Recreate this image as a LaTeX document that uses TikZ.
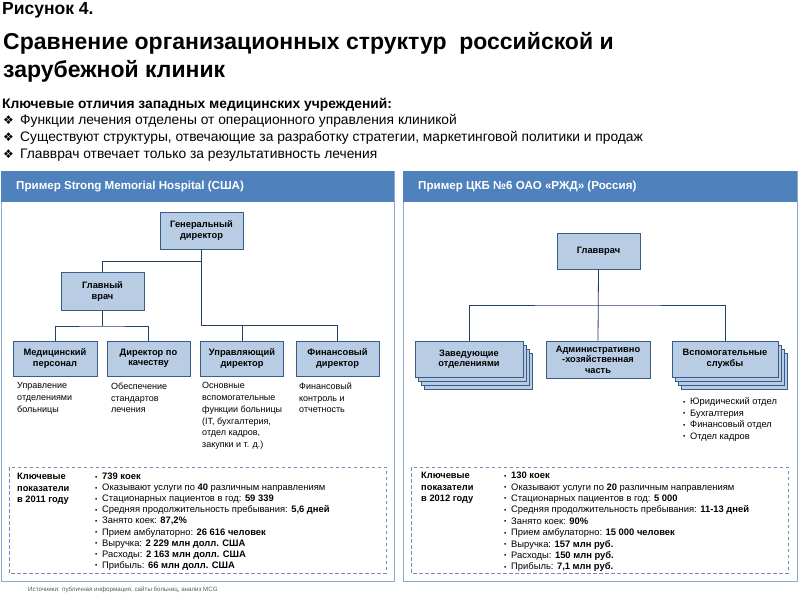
\documentclass[tikz,border=0pt]{standalone}
\usepackage{fontspec}
\setmainfont{Liberation Sans}
\newfontfamily\symfont{DejaVu Sans}
\usetikzlibrary{shadows}

\definecolor{headblue}{HTML}{4F81BD}
\definecolor{panelline}{HTML}{8EA9CF}
\definecolor{boxfill}{HTML}{B8CCE4}
\definecolor{boxline}{HTML}{385D8A}
\definecolor{connline}{HTML}{243F68}
\definecolor{dashline}{HTML}{6F8FB8}
\definecolor{srcgray}{HTML}{595959}

\newcommand{\itm}{\makebox[7pt][l]{\raisebox{0.6pt}{\fontsize{6.5}{7}\selectfont\textbullet}}}
\newcommand{\dia}{\makebox[17pt][l]{\symfont\fontsize{12}{14}\selectfont ❖}}

\begin{document}
\begin{tikzpicture}[x=1pt,y=-1pt,
	orgbox/.style={draw=boxline, fill=boxfill, line width=0.8pt, align=center, inner sep=2pt, font=\bfseries\fontsize{9.3}{10.5}\selectfont},
	stackbox/.style={orgbox,
		copy shadow={shadow xshift=9pt, shadow yshift=-12pt, fill=boxfill, draw=boxline},
		copy shadow={shadow xshift=6pt, shadow yshift=-8pt, fill=boxfill, draw=boxline},
		copy shadow={shadow xshift=3pt, shadow yshift=-4pt, fill=boxfill, draw=boxline}},
	conn/.style={draw=connline, line width=0.8pt},
	desc/.style={anchor=north west, inner sep=0pt, align=left, font=\fontsize{9}{11.7}\selectfont},
	keylist/.style={anchor=north west, inner sep=0pt, align=left},
	panel/.style={draw=panelline, line width=0.8pt, fill=white},
	headtext/.style={anchor=west, inner sep=0pt, text=white, font=\bfseries\fontsize{11.6}{13}\selectfont},
	keybox/.style={draw=dashline, line width=0.7pt, dash pattern=on 3.5pt off 2.5pt},
	topline/.style={anchor=base west, inner sep=0pt}]
		%%%%% START %%%%%
		\useasboundingbox (0,0) rectangle (800,595);
		
		\node[topline, font=\bfseries\fontsize{17.5}{20}\selectfont] (fignum) at (2,14) {Рисунок 4.};
		\node[topline, font=\bfseries\fontsize{23}{27}\selectfont] (title1) at (3,49) {Сравнение организационных структур\ \ российской и};
		\node[topline, font=\bfseries\fontsize{23}{27}\selectfont] (title2) at (3,77) {зарубежной клиник};
		\node[topline, font=\bfseries\fontsize{13.8}{16}\selectfont] (diffhead) at (2,108.5) {Ключевые отличия западных медицинских учреждений:};
		\node[topline, font=\fontsize{13.8}{16}\selectfont] (diff1) at (3,124) {\dia Функции лечения отделены от операционного управления клиникой};
		\node[topline, font=\fontsize{13.8}{16}\selectfont] (diff2) at (3,141.5) {\dia Существуют структуры, отвечающие за разработку стратегии, маркетинговой политики и продаж};
		\node[topline, font=\fontsize{13.8}{16}\selectfont] (diff3) at (3,158.5) {\dia Главврач отвечает только за результативность лечения};
		
		% panels
		\draw[panel] (1, 171) rectangle (394, 581);
		\fill[headblue] (1, 171) rectangle (394, 201.5);
		\draw[panel] (403, 171) rectangle (797, 581);
		\fill[headblue] (403, 171) rectangle (797, 201.5);
		\node[headtext] (headusa) at (16, 186.5) {Пример Strong Memorial Hospital (США)};
		\node[headtext] (headrus) at (418, 186.5) {Пример ЦКБ №6 ОАО «РЖД» (Россия)};
		
		%%%%% USA %%%%%
		\node[orgbox, minimum width=83pt, minimum height=37pt] (gd) at (201.5, 230.5) {Генеральный\\директор};
		\node[orgbox, minimum width=83pt, minimum height=38pt] (gv) at (102.5, 291.5) {Главный\\врач};
		\node[orgbox, minimum width=84pt, minimum height=35pt] (med) at (55, 358.5) {Медицинский\\персонал};
		\node[orgbox, minimum width=83pt, minimum height=35pt] (kach) at (148.5, 358.5) {Директор по\\качеству};
		\node[orgbox, minimum width=83pt, minimum height=35pt] (upr) at (242, 358.5) {Управляющий\\директор};
		\node[orgbox, minimum width=83pt, minimum height=35pt] (fin) at (337.5, 358.5) {Финансовый\\директор};
		
		\coordinate (gvbus) at (201.5, 261);
		\coordinate (gdjoin) at (201.5, 325);
		\coordinate (gvjoin) at (102.5, 326);
		\draw[conn] (gd.south) -- (gdjoin) -| (fin.north);
		\draw[conn] (gdjoin) -| (upr.north);
		\draw[conn] (gv.north) |- (gvbus);
		\draw[conn] (gv.south) -- (gvjoin);
		\draw[conn] (med.north) |- (gvjoin) -| (kach.north);
		
		\node[desc] (meddesc) at (17, 382.5) {Управление\\отделениями\\больницы};
		\node[desc] (kachdesc) at (111, 382.5) {Обеспечение\\стандартов\\лечения};
		\node[desc] (uprdesc) at (202, 382.5) {Основные\\вспомогательные\\функции больницы\\(IT, бухгалтерия,\\отдел кадров,\\закупки и т. д.)};
		\node[desc] (findesc) at (299, 382.5) {Финансовый\\контроль и\\отчетность};
		
		\draw[keybox] (9, 467) rectangle (386, 573);
		\node[keylist, font=\bfseries\fontsize{9.3}{11.5}\selectfont] (keyusa) at (17, 473) {Ключевые\\показатели\\в 2011 году};
		\node[keylist, font=\fontsize{9.4}{11.05}\selectfont] (listusa) at (95, 473) {%
			\itm\textbf{739 коек}\\
			\itm Оказывают услуги по \textbf{40} различным направлениям\\
			\itm Стационарных пациентов в год: \textbf{59 339}\\
			\itm Средняя продолжительность пребывания: \textbf{5,6 дней}\\
			\itm Занято коек: \textbf{87,2\%}\\
			\itm Прием амбулаторно: \textbf{26 616 человек}\\
			\itm Выручка: \textbf{2 229 млн долл. США}\\
			\itm Расходы: \textbf{2 163 млн долл. США}\\
			\itm Прибыль: \textbf{66 млн долл. США}};
		
		%%%%% RUSSIA %%%%%
		\node[orgbox, minimum width=83pt, minimum height=36pt] (glav) at (598.5, 251) {Главврач};
		\node[stackbox, minimum width=108pt, minimum height=36pt] (zav) at (469, 359) {Заведующие\\отделениями};
		\node[orgbox, minimum width=104pt, minimum height=37pt] (adm) at (598, 359.5) {Административно\\-хозяйственная\\часть};
		\node[stackbox, minimum width=106pt, minimum height=36pt] (vsp) at (725, 359) {Вспомогательные\\службы};
		
		\coordinate (glavbus) at (598.5, 305);
		\draw[conn] (glav.south) -- (adm.north);
		\draw[conn] (zav.north) |- (glavbus) -| (vsp.north);
		
		\node[desc, font=\fontsize{9.3}{11.5}\selectfont] (vspdesc) at (683, 397.5) {%
			\itm Юридический отдел\\
			\itm Бухгалтерия\\
			\itm Финансовый отдел\\
			\itm Отдел кадров};
		
		\draw[keybox] (411, 467) rectangle (788, 573);
		\node[keylist, font=\bfseries\fontsize{9.3}{11.5}\selectfont] (keyrus) at (421, 472) {Ключевые\\показатели\\в 2012 году};
		\node[keylist, font=\fontsize{9.4}{11.4}\selectfont] (listrus) at (504, 472) {%
			\itm\textbf{130 коек}\\
			\itm Оказывают услуги по \textbf{20} различным направлениям\\
			\itm Стационарных пациентов в год: \textbf{5 000}\\
			\itm Средняя продолжительность пребывания: \textbf{11-13 дней}\\
			\itm Занято коек: \textbf{90\%}\\
			\itm Прием амбулаторно: \textbf{15 000 человек}\\
			\itm Выручка: \textbf{157 млн руб.}\\
			\itm Расходы: \textbf{150 млн руб.}\\
			\itm Прибыль: \textbf{7,1 млн руб.}};
		
		\node[anchor=west, inner sep=0pt, text=srcgray, font=\fontsize{6.2}{7}\selectfont] (source) at (28, 590) {Источники: публичная информация, сайты больниц, анализ MCG};
		%%%%% END %%%%%
	\end{tikzpicture}
\end{document}
